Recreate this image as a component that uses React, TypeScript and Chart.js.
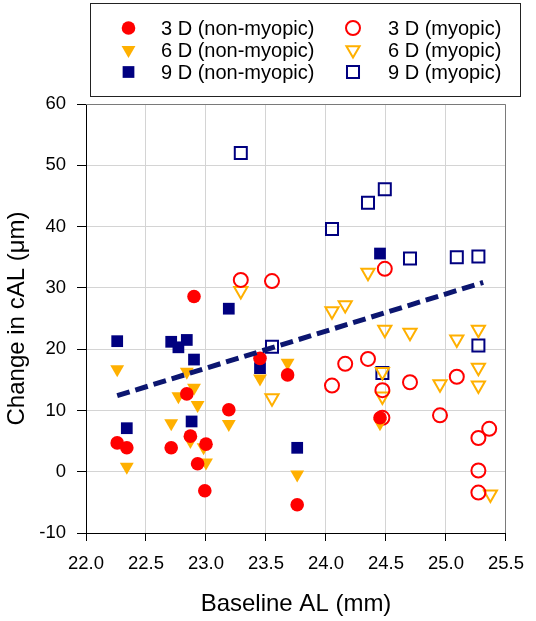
import React, { useEffect, useRef } from 'react';
import { Chart, registerables } from 'chart.js';

Chart.register(...registerables);

const FONT = "'Liberation Sans', Arial, Helvetica, sans-serif";

// ---- data (Baseline AL in mm, change in cAL in µm) ----
const nm3X = [22.26, 22.34, 22.71, 22.84, 22.87, 22.9, 22.93, 22.99, 23.0, 23.19, 23.45, 23.68, 23.76, 24.45];
const nm3Y = [4.7, 3.9, 3.9, 12.7, 5.8, 28.6, 1.3, -3.1, 4.5, 10.1, 18.5, 15.8, -5.4, 8.8];

const nm6X = [22.26, 22.34, 22.71, 22.77, 22.84, 22.87, 22.9, 22.93, 22.98, 23.0, 23.19, 23.45, 23.68, 23.76, 24.45];
const nm6Y = [16.7, 0.8, 7.9, 12.3, 16.3, 5.0, 13.7, 10.9, 4.0, 1.5, 7.8, 15.2, 17.8, -0.45, 7.9];

const nm9X = [22.26, 22.34, 22.71, 22.77, 22.84, 22.88, 22.9, 23.19, 23.45, 23.76, 24.45];
const nm9Y = [21.3, 7.1, 21.2, 20.3, 21.5, 8.2, 18.3, 26.6, 16.9, 3.9, 35.6];

const m3X = [23.29, 23.55, 24.05, 24.16, 24.35, 24.47, 24.47, 24.49, 24.7, 24.95, 25.09, 25.27, 25.27, 25.27, 25.36];
const m3Y = [31.3, 31.1, 14.05, 17.6, 18.4, 13.3, 8.8, 33.1, 14.6, 9.2, 15.5, 5.5, 0.2, -3.4, 7.0];

const m6X = [23.29, 23.55, 24.05, 24.16, 24.35, 24.49, 24.47, 24.47, 24.7, 24.95, 25.09, 25.27, 25.27, 25.27, 25.37];
const m6Y = [29.5, 12.0, 26.2, 27.2, 32.5, 23.2, 16.3, 12.3, 22.7, 14.3, 21.6, 23.2, 17.0, 14.1, -3.7];

const m9X = [23.29, 23.55, 24.05, 24.35, 24.49, 24.47, 24.7, 25.09, 25.27, 25.27];
const m9Y = [52.0, 20.4, 39.6, 43.9, 46.1, 16.1, 34.8, 35.0, 35.1, 20.6];

const trendX = [22.26, 25.31];
const trendY = [12.4, 30.9];

const xTicks = [22.0, 22.5, 23.0, 23.5, 24.0, 24.5, 25.0, 25.5];
const yTicks = [-10, 0, 10, 20, 30, 40, 50, 60];

const seriesLabels = [
  '3 D (non-myopic)', '6 D (non-myopic)', '9 D (non-myopic)',
  '3 D (myopic)', '6 D (myopic)', '9 D (myopic)',
];

const RED = '#ff0000';
const ORANGE = '#ffb000';
const NAVY = '#000080';

type Series = {
  label: string; xs: number[]; ys: number[]; shape: 'circle' | 'triangle' | 'rect';
  color: string; filled: boolean; radius: number; col: number; row: number;
};

const SERIES: Series[] = [
  { label: seriesLabels[0], xs: nm3X, ys: nm3Y, shape: 'circle', color: RED, filled: true, radius: 6.8, col: 0, row: 0 },
  { label: seriesLabels[1], xs: nm6X, ys: nm6Y, shape: 'triangle', color: ORANGE, filled: true, radius: 8, col: 0, row: 1 },
  { label: seriesLabels[2], xs: nm9X, ys: nm9Y, shape: 'rect', color: NAVY, filled: true, radius: 8.3, col: 0, row: 2 },
  { label: seriesLabels[3], xs: m3X, ys: m3Y, shape: 'circle', color: RED, filled: false, radius: 7, col: 1, row: 0 },
  { label: seriesLabels[4], xs: m6X, ys: m6Y, shape: 'triangle', color: ORANGE, filled: false, radius: 7.6, col: 1, row: 1 },
  { label: seriesLabels[5], xs: m9X, ys: m9Y, shape: 'rect', color: NAVY, filled: false, radius: 8.5, col: 1, row: 2 },
];

const toPts = (xs: number[], ys: number[]) => xs.map((x, i) => ({ x, y: ys[i] }));

function drawMarker(ctx: CanvasRenderingContext2D, s: Series, x: number, y: number) {
  const r = s.radius;
  ctx.beginPath();
  if (s.shape === 'circle') {
    ctx.arc(x, y, r, 0, Math.PI * 2);
  } else if (s.shape === 'triangle') {
    const h = r * Math.sin(Math.PI / 3);
    ctx.moveTo(x, y + r);
    ctx.lineTo(x - h, y - r / 2);
    ctx.lineTo(x + h, y - r / 2);
    ctx.closePath();
  } else {
    const a = Math.SQRT1_2 * r;
    ctx.rect(x - a, y - a, 2 * a, 2 * a);
  }
  if (s.filled) {
    ctx.fillStyle = s.color;
    ctx.fill();
  } else {
    ctx.strokeStyle = s.color;
    ctx.lineWidth = 2;
    ctx.stroke();
  }
}

const framePlugin = {
  id: 'frameAndLegend',
  afterDraw(chart: any) {
    const ctx: CanvasRenderingContext2D = chart.ctx;
    const { left, right, top, bottom } = chart.chartArea;
    ctx.save();
    // top & right frame lines
    ctx.strokeStyle = '#7a7a7a';
    ctx.lineWidth = 1;
    ctx.beginPath();
    ctx.moveTo(left, Math.round(top) + 0.5);
    ctx.lineTo(Math.round(right) - 0.5, Math.round(top) + 0.5);
    ctx.lineTo(Math.round(right) - 0.5, bottom);
    ctx.stroke();

    // legend box
    ctx.strokeStyle = '#222';
    ctx.strokeRect(90.5, 3.5, 430, 93);
    ctx.font = `20px ${FONT}`;
    ctx.textBaseline = 'middle';
    ctx.textAlign = 'left';
    SERIES.forEach((s) => {
      const y = 28 + s.row * 22;
      const mx = s.col ? 353 : 128.5;
      const tx = s.col ? 388 : 161;
      drawMarker(ctx, s, mx, y);
      ctx.fillStyle = '#000';
      ctx.fillText(s.label, tx, y + 1);
    });
    ctx.restore();
  },
};

export default function App() {
  const ref = useRef<HTMLCanvasElement | null>(null);

  useEffect(() => {
    if (!ref.current) return;
    const datasets: any[] = SERIES.map((s) => ({
      label: s.label,
      data: toPts(s.xs, s.ys),
      pointStyle: s.shape,
      pointRadius: s.radius,
      pointHoverRadius: s.radius,
      pointRotation: s.shape === 'triangle' ? 180 : 0,
      pointBackgroundColor: s.filled ? s.color : 'rgba(0,0,0,0)',
      pointBorderColor: s.color,
      pointBorderWidth: s.filled ? 0 : 2,
      backgroundColor: s.filled ? s.color : 'rgba(0,0,0,0)',
      borderColor: s.color,
      showLine: false,
      order: 1,
    }));
    datasets.push({
      label: 'trend',
      data: toPts(trendX, trendY),
      showLine: true,
      borderColor: '#0c1670',
      borderWidth: 5,
      borderDash: [13, 6],
      pointRadius: 0,
      fill: false,
      order: 0,
    });

    const chart = new Chart(ref.current, {
      type: 'scatter',
      data: { datasets },
      options: {
        responsive: false,
        animation: false,
        events: [],
        layout: { padding: { left: 0, top: 104, right: 20, bottom: 0 } },
        plugins: { legend: { display: false }, tooltip: { enabled: false } },
        scales: {
          x: {
            type: 'linear',
            min: 22,
            max: 25.5,
            afterBuildTicks: (s: any) => { s.ticks = xTicks.map((v) => ({ value: v })); },
            afterFit: (s: any) => { s.height = 88; },
            ticks: {
              callback: (v: any) => Number(v).toFixed(1),
              font: { size: 18.5, family: FONT },
              color: '#000',
              padding: 12,
              maxRotation: 0,
              autoSkip: false,
            },
            grid: { color: '#d4d4d4', tickColor: '#000', tickLength: 8, lineWidth: 1 },
            border: { color: '#000', width: 1 },
            title: {
              display: true,
              text: 'Baseline AL (mm)',
              font: { size: 24, family: FONT },
              color: '#000',
              padding: { top: 0, bottom: 2 },
            },
          },
          y: {
            type: 'linear',
            min: -10,
            max: 60,
            afterBuildTicks: (s: any) => { s.ticks = yTicks.map((v) => ({ value: v })); },
            afterFit: (s: any) => { s.width = 86; },
            ticks: {
              font: { size: 18.5, family: FONT },
              color: '#000',
              padding: 11,
              autoSkip: false,
            },
            grid: { color: '#d4d4d4', tickColor: '#000', tickLength: 9, lineWidth: 1 },
            border: { color: '#000', width: 1 },
            title: {
              display: true,
              text: 'Change in cAL (μm)',
              font: { size: 24, family: FONT },
              color: '#000',
              padding: { top: 3, bottom: 0 },
            },
          },
        },
      },
      plugins: [framePlugin],
    } as any);
    return () => chart.destroy();
  }, []);

  return (
    <div style={{ position: 'absolute', left: 0, top: 0, width: 536, height: 621 }}>
      <canvas ref={ref} width={536} height={621} style={{ display: 'block' }} />
    </div>
  );
}
